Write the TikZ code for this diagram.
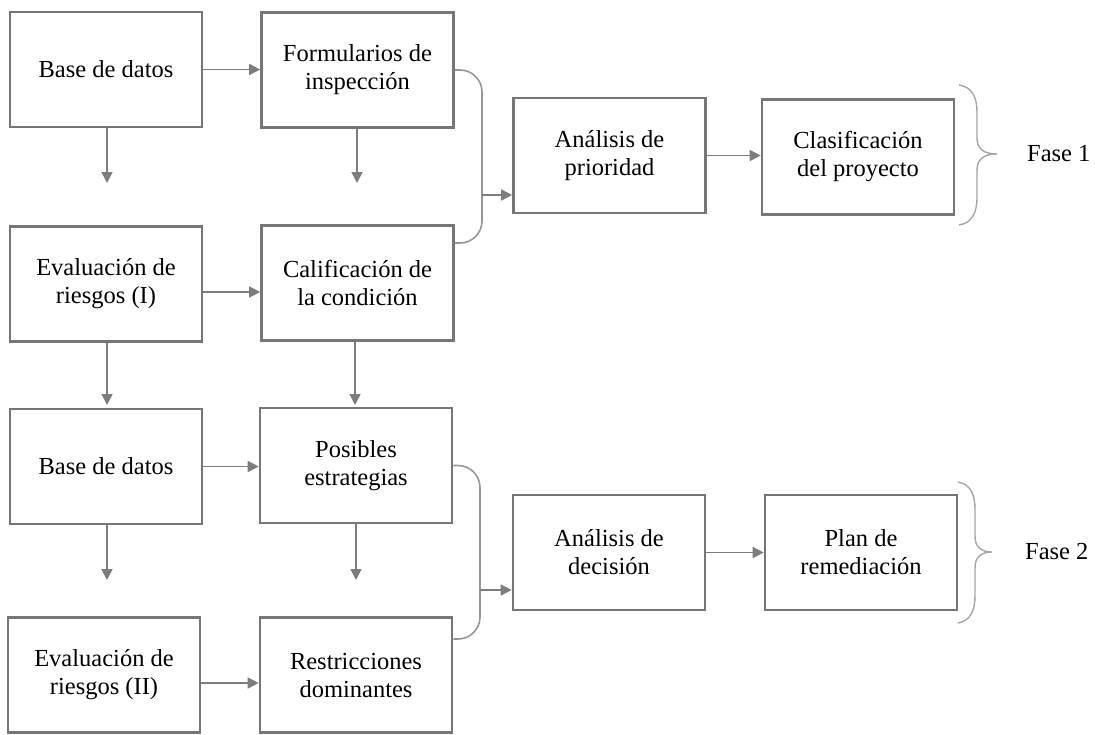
\documentclass[tikz,border=0pt]{standalone}
\usepackage{fontspec}
\setmainfont{Liberation Serif}
\usetikzlibrary{arrows.meta}
\definecolor{boxgray}{RGB}{118,118,118}
\definecolor{arrgray}{RGB}{125,125,125}
\definecolor{joingray}{RGB}{150,150,150}
\definecolor{bracegray}{RGB}{165,165,165}
\begin{document}
\begin{tikzpicture}[x=1pt,y=-1pt,
  box/.style={draw=boxgray,line width=2.6pt,minimum width=192pt,minimum height=115pt,
    inner sep=0pt,align=center,font=\fontsize{24.5}{28}\selectfont},
  arr/.style={draw=arrgray,line width=1.6pt,-{Triangle[length=11pt,width=11pt]}},
  joinline/.style={draw=joingray,line width=1.6pt,rounded corners=22pt},
  bracepath/.style={draw=bracegray,line width=1.4pt},
  phase/.style={anchor=west,inner sep=0pt,font=\fontsize{24.5}{28}\selectfont}]
\useasboundingbox (0,0) rectangle (1095,734);

% Phase 1 boxes
\node[box] (b1)     at (106,69.5)  {Base de datos};
\node[box] (form)   at (357.5,70)  {Formularios de\\inspección};
\node[box] (eval1)  at (106,284)   {Evaluación de\\riesgos (I)};
\node[box] (calif)  at (357.5,283) {Calificación de\\la condición};
\node[box] (apri)   at (609.5,155.5) {Análisis de\\prioridad};
\node[box] (clasif) at (858,157)   {Clasificación\\del proyecto};

% Phase 2 boxes
\node[box] (b2)     at (106,466.5) {Base de datos};
\node[box] (posib)  at (356,465.5) {Posibles\\estrategias};
\node[box] (eval2)  at (104,675)   {Evaluación de\\riesgos (II)};
\node[box] (restr)  at (356,675)   {Restricciones\\dominantes};
\node[box] (adec)   at (609,552.5) {Análisis de\\decisión};
\node[box] (plan)   at (861,552.5) {Plan de\\remediación};

% free ends of the short downward arrows
\coordinate (d1) at (107,183);
\coordinate (d2) at (357,183);
\coordinate (d3) at (107,405);
\coordinate (d4) at (355,405);
\coordinate (d5) at (107,580);
\coordinate (d6) at (356,580);

% horizontal arrows
\draw[arr] (b1.east) -- (b1.east -| form.west);
\draw[arr] ([yshift=-8pt]eval1.east) -- ([yshift=-8pt]eval1.east -| calif.west);
\draw[arr] (b2.east) -- (b2.east -| posib.west);
\draw[arr] ([yshift=-8pt]eval2.east) -- ([yshift=-8pt]eval2.east -| restr.west);
\draw[arr] (apri.east) -- (apri.east -| clasif.west);
\draw[arr] (adec.east) -- (adec.east -| plan.west);

% downward arrows
\draw[arr] (b1.south -| d1) -- (d1);
\draw[arr] (form.south -| d2) -- (d2);
\draw[arr] (eval1.south -| d3) -- (d3);
\draw[arr] (calif.south -| d4) -- (d4);
\draw[arr] (b2.south -| d5) -- (d5);
\draw[arr] (posib.south -| d6) -- (d6);

% joining brackets
\coordinate (j1t) at (482,70);
\coordinate (j1b) at (482,243);
\coordinate (j1m) at (482,195);
\draw[joinline] (form.east) -- (j1t) -- (j1b) -- (calif.east |- j1b);
\draw[arr] (j1m) -- (j1m -| apri.west);

\coordinate (j2t) at (480,465.5);
\coordinate (j2b) at (480,639);
\coordinate (j2m) at (480,590);
\draw[joinline] (posib.east) -- (j2t) -- (j2b) -- (restr.east |- j2b);
\draw[arr] (j2m) -- (j2m -| adec.west);

% phase braces
\draw[bracepath] (959,85) .. controls (972,87) and (977,97) .. (977,112)
  -- (977,138) .. controls (977,149) and (984,154) .. (997,154)
  .. controls (984,154) and (977,159) .. (977,170)
  -- (977,197) .. controls (977,213) and (972,223) .. (959,225);
\node[phase] (f1) at (1027,154) {Fase 1};

\draw[bracepath] (958,482) .. controls (970,484) and (975,494) .. (975,509)
  -- (975,536) .. controls (975,547) and (981,552) .. (992,552)
  .. controls (981,552) and (975,557) .. (975,568)
  -- (975,596) .. controls (975,611) and (970,621) .. (958,623);
\node[phase] (f2) at (1025,552) {Fase 2};
\end{tikzpicture}
\end{document}
